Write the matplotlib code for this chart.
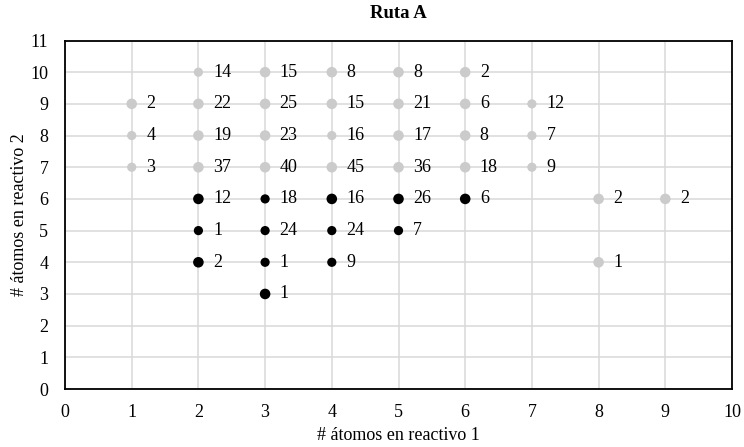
import matplotlib
matplotlib.use("Agg")
import matplotlib.pyplot as plt

plt.rcParams['font.family'] = ['Liberation Serif', 'DejaVu Serif']

# Gray series: (reactivo 1, reactivo 2, count)
gray_x = [1, 1, 1, 2, 2, 2, 2, 3, 3, 3, 3, 4, 4, 4, 4, 5, 5, 5, 5, 6, 6, 6, 6, 7, 7, 7, 8, 9, 8]
gray_y = [9, 8, 7, 10, 9, 8, 7, 10, 9, 8, 7, 10, 9, 8, 7, 10, 9, 8, 7, 10, 9, 8, 7, 9, 8, 7, 6, 6, 4]
gray_n = [2, 4, 3, 14, 22, 19, 37, 15, 25, 23, 40, 8, 15, 16, 45, 8, 21, 17, 36, 2, 6, 8, 18, 12, 7, 9, 2, 2, 1]
gray_big = [1, 0, 0, 0, 1, 1, 1, 1, 1, 1, 1, 1, 1, 0, 1, 1, 1, 1, 1, 1, 1, 1, 1, 0, 0, 0, 1, 1, 1]

# Black series
black_x = [2, 2, 2, 3, 3, 3, 3, 4, 4, 4, 5, 5, 6]
black_y = [6, 5, 4, 6, 5, 4, 3, 6, 5, 4, 6, 5, 6]
black_n = [12, 1, 2, 18, 24, 1, 1, 16, 24, 9, 26, 7, 6]
black_big = [1, 0, 1, 0, 0, 0, 1, 1, 0, 0, 1, 0, 1]

x_ticks = list(range(0, 11))
y_ticks = list(range(0, 12))

fig = plt.figure(figsize=(7.44, 4.47), dpi=100)
ax = fig.add_axes([65 / 744, 1 - 389 / 447, (732 - 65) / 744, (389 - 40.5) / 447])

def sizes(flags):
    return [58 if f else 44 for f in flags]

ax.scatter(gray_x, gray_y, s=sizes(gray_big), color='#CBCBCB', zorder=3, linewidths=0)
ax.scatter(black_x, black_y, s=sizes(black_big), color='#000000', zorder=3, linewidths=0)

for xs, ys, ns in ((gray_x, gray_y, gray_n), (black_x, black_y, black_n)):
    for xv, yv, nv in zip(xs, ys, ns):
        ax.annotate(str(nv), (xv, yv), xytext=(10.5, 0), textcoords='offset points',
                    ha='left', va='center', fontsize=13, zorder=4)

ax.set_xlim(0, 10)
ax.set_ylim(0, 11)
ax.set_xticks(x_ticks)
ax.set_yticks(y_ticks)
ax.tick_params(length=0, labelsize=13)
ax.tick_params(axis='x', pad=11)
ax.tick_params(axis='y', pad=12)
ax.grid(True, color='#D9D9D9', linewidth=1.1, zorder=0)
ax.set_axisbelow(True)
for sp in ax.spines.values():
    sp.set_linewidth(1.3)
    sp.set_color('black')

ax.set_title('Ruta A', fontsize=13.5, fontweight='bold', pad=16)
ax.set_xlabel('# átomos en reactivo 1', fontsize=13, labelpad=4)
ax.set_ylabel('# átomos en reactivo 2', fontsize=13, labelpad=2)

fig.savefig('out.png', dpi=100)
